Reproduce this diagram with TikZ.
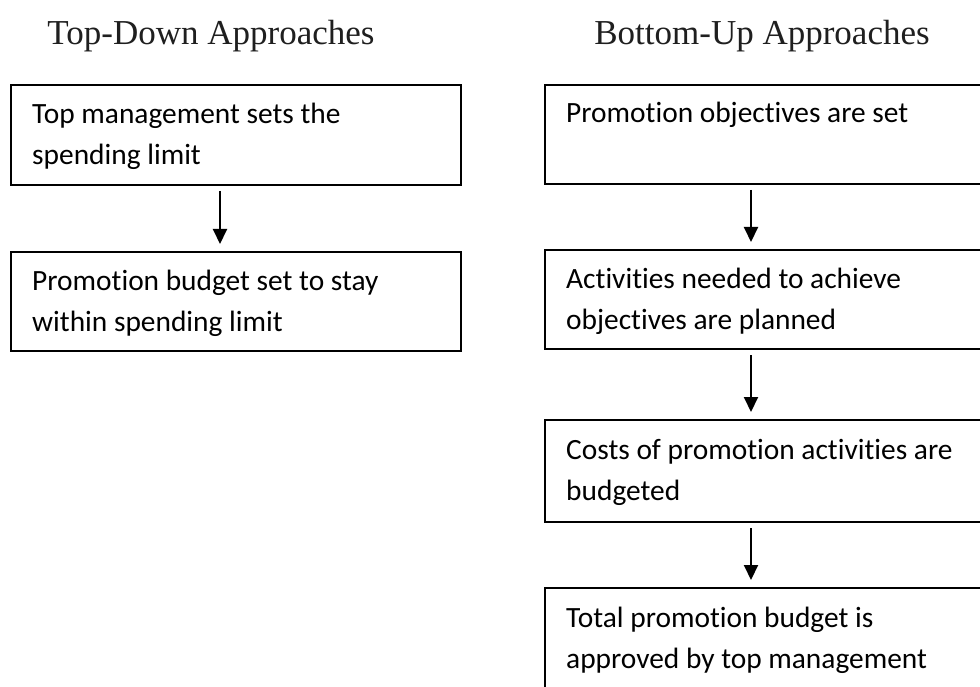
\documentclass[tikz,border=0pt]{standalone}
\usepackage{fontspec}
\setmainfont{Carlito}[Ligatures=NoCommon]
\newfontfamily\titlefont{Liberation Serif}
\usetikzlibrary{arrows.meta}
\tikzset{
  box/.style={draw=black, line width=2pt, fill=white, inner sep=0pt, anchor=north west},
  txt/.style={inner sep=0pt, anchor=base west},
  ttl/.style={inner sep=0pt, anchor=base, font=\titlefont\fontsize{35}{40}\selectfont, text=black!88},
  arr/.style={line width=2pt, -{Triangle[width=14pt,length=15pt]}, shorten <=5pt, shorten >=7pt}
}
\newcommand{\boxtext}[1]{\parbox[t]{430pt}{\fontsize{29.4}{41}\selectfont #1}}
\begin{document}
\begin{tikzpicture}[x=1pt,y=-1pt]
\useasboundingbox (0,0) rectangle (980,687);
\clip (0,0) rectangle (980,687);
\fill[white] (0,0) rectangle (980,687);
% titles
\node[ttl] (tl) at (211,45) {Top-Down Approaches};
\node[ttl] (tr) at (762,45) {Bottom-Up Approaches};
% left column
\node[box, minimum width=450pt, minimum height=100pt] (l1) at (10,84) {};
\node[box, minimum width=450pt, minimum height=99pt] (l2) at (10,251) {};
\node[txt] (l1t) at (32,124) {\boxtext{Top management sets the\\spending limit}};
\node[txt] (l2t) at (32,290) {\boxtext{Promotion budget set to stay\\within spending limit}};
\draw[arr] ([xshift=210pt]l1.south west) -- ([xshift=210pt]l2.north west);
% right column
\node[box, minimum width=470pt, minimum height=99pt] (r1) at (544,84) {};
\node[box, minimum width=470pt, minimum height=99pt] (r2) at (544,249) {};
\node[box, minimum width=470pt, minimum height=102pt] (r3) at (544,419) {};
\node[box, minimum width=470pt, minimum height=140pt] (r4) at (544,587) {};
\node[txt] (r1t) at (566,123) {\boxtext{Promotion objectives are set}};
\node[txt] (r2t) at (566,288) {\boxtext{Activities needed to achieve\\objectives are planned}};
\node[txt] (r3t) at (566,459) {\boxtext{Costs of promotion activities are\\budgeted}};
\node[txt] (r4t) at (566,627) {\boxtext{Total promotion budget is\\approved by top management}};
\draw[arr] ([xshift=207pt]r1.south west) -- ([xshift=207pt]r2.north west);
\draw[arr] ([xshift=207pt]r2.south west) -- ([xshift=207pt]r3.north west);
\draw[arr] ([xshift=207pt]r3.south west) -- ([xshift=207pt]r4.north west);
\end{tikzpicture}
\end{document}
